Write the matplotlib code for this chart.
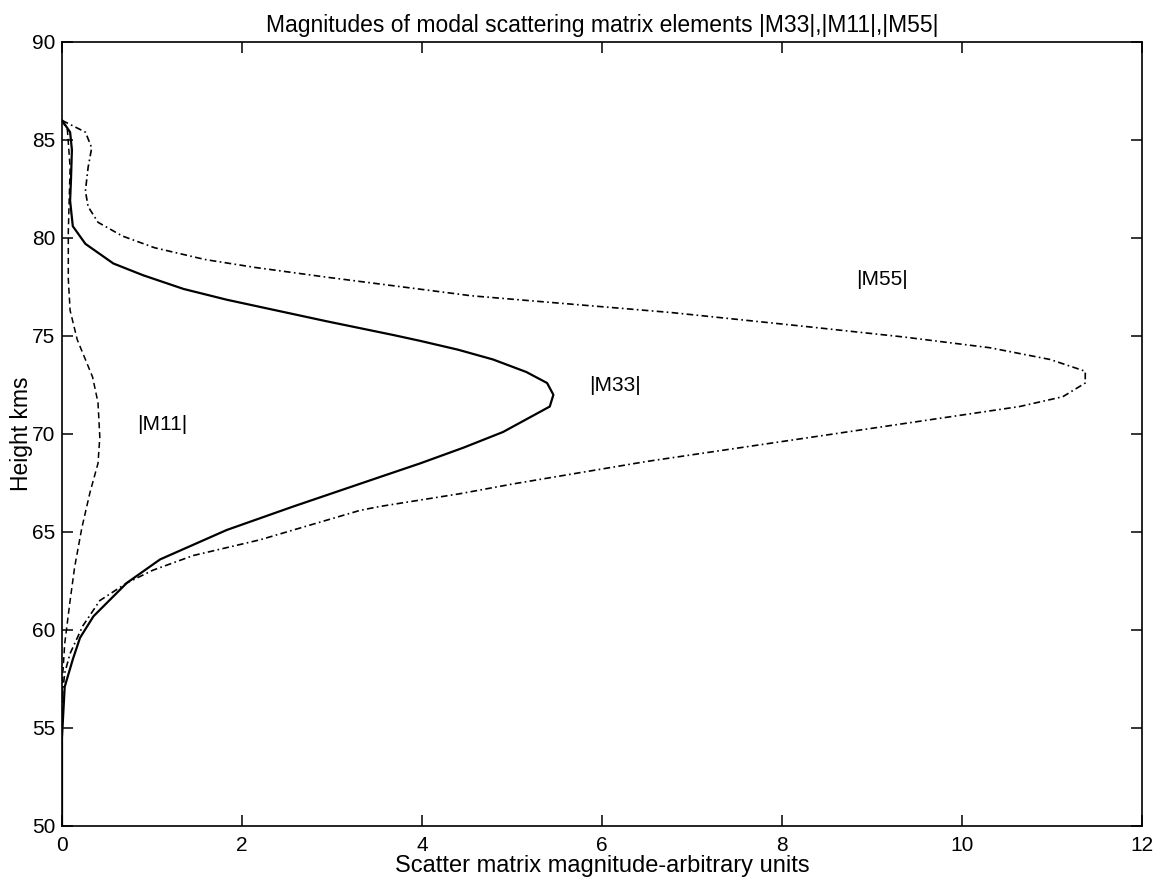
import matplotlib
matplotlib.use("Agg")
import matplotlib.pyplot as plt
import numpy as np

plt.rcParams['font.family'] = ['Liberation Sans', 'DejaVu Sans']

# |M33| solid curve (magnitude, height km)
m33_x = [0.0, 0.09, 0.11, 0.10, 0.09, 0.12, 0.26, 0.57, 0.90, 1.35, 1.83, 2.94,
         3.68, 3.98, 4.40, 4.79, 5.16, 5.39, 5.46, 5.42, 4.90, 4.46, 3.98, 3.53,
         2.57, 1.83, 1.09, 0.72, 0.35, 0.20, 0.12, 0.03, 0.01, 0.0, 0.0]
m33_h = [86.0, 85.4, 84.5, 83.0, 81.9, 80.6, 79.7, 78.7, 78.1, 77.4, 76.85, 75.75,
         75.05, 74.75, 74.3, 73.8, 73.16, 72.6, 72.0, 71.4, 70.1, 69.3, 68.5, 67.8,
         66.3, 65.1, 63.6, 62.4, 60.7, 59.6, 58.5, 57.1, 55.4, 54.5, 50.0]

# |M11| dashed curve
m11_x = [0.0, 0.06, 0.09, 0.08, 0.07, 0.07, 0.09, 0.17, 0.26, 0.34, 0.40, 0.42,
         0.40, 0.31, 0.22, 0.14, 0.09, 0.03, 0.0, 0.0]
m11_h = [86.0, 85.5, 83.6, 82.0, 80.3, 77.9, 76.3, 74.8, 73.8, 72.9, 71.6, 69.85,
         68.5, 67.0, 65.2, 63.2, 61.5, 59.3, 57.1, 50.0]

# |M55| dash-dot curve
m55_x = [0.0, 0.26, 0.33, 0.29, 0.26, 0.29, 0.40, 0.67, 1.03, 1.59, 2.14, 2.94,
         4.55, 6.76, 8.23, 9.35, 10.31, 10.98, 11.37, 11.37, 11.12, 10.64, 10.05,
         9.31, 7.98, 6.50, 5.01, 4.42, 3.53, 3.31, 2.20, 1.46, 1.01, 0.72, 0.42,
         0.23, 0.09, 0.03, 0.0, 0.0]
m55_h = [86.0, 85.4, 84.6, 83.6, 82.4, 81.6, 80.8, 80.1, 79.5, 78.9, 78.5, 78.0,
         77.05, 76.2, 75.5, 74.95, 74.4, 73.8, 73.2, 72.6, 71.9, 71.4, 71.0,
         70.5, 69.6, 68.6, 67.45, 66.95, 66.3, 66.1, 64.6, 63.8, 63.05, 62.4, 61.5,
         60.2, 58.8, 57.8, 56.5, 50.0]

labels = ["|M55|", "|M33|", "|M11|"]
label_x = [9.11, 6.14, 1.11]
label_h = [77.9, 72.45, 70.5]

fig = plt.figure(figsize=(11.59, 8.8), dpi=100)
ax = fig.add_axes([0.0535, 0.0614, 0.9318, 0.8909])

ax.plot(m33_x, m33_h, color="black", linewidth=1.6, linestyle="-")
ax.plot(m11_x, m11_h, color="black", linewidth=1.1, linestyle=(0, (4, 2.5)))
ax.plot(m55_x, m55_h, color="black", linewidth=1.2, linestyle=(0, (4, 2, 1, 2)))

for t, x, h in zip(labels, label_x, label_h):
    ax.text(x, h, t, fontsize=15, ha="center", va="center")

ax.set_xlim(0, 12)
ax.set_ylim(50, 90)
ax.set_xticks(np.arange(0, 13, 2))
ax.set_yticks(np.arange(50, 91, 5))
ax.tick_params(direction="in", top=True, right=True, length=8, width=1.1,
               labelsize=15)
ax.tick_params(axis="x", pad=7)
ax.tick_params(axis="y", pad=5)
for s in ax.spines.values():
    s.set_linewidth(1.2)

ax.set_title("Magnitudes of modal scattering matrix elements |M33|,|M11|,|M55|",
             fontsize=16.5, pad=7)
ax.set_xlabel("Scatter matrix magnitude-arbitrary units", fontsize=17, labelpad=0)
ax.set_ylabel("Height kms", fontsize=16.5, labelpad=-1)

fig.savefig("out.png", dpi=100)
